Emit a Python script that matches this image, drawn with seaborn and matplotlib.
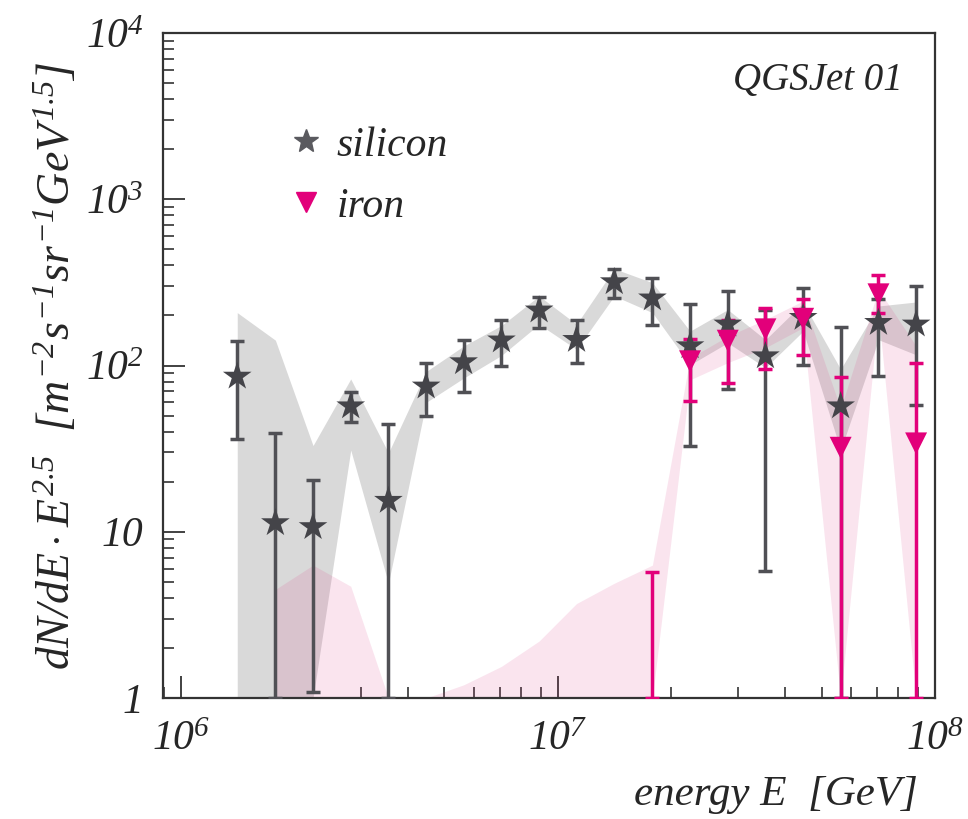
import numpy as np
import pandas as pd
import seaborn as sns
import matplotlib.pyplot as plt
from matplotlib.lines import Line2D
from matplotlib.ticker import LogLocator, NullFormatter

sns.set_style("white")
plt.rcParams["font.family"] = ["Liberation Serif", "DejaVu Serif"]
plt.rcParams["font.style"] = "italic"
plt.rcParams["mathtext.fontset"] = "custom"
plt.rcParams["mathtext.rm"] = "Liberation Serif:italic"
plt.rcParams["mathtext.it"] = "Liberation Serif:italic"
plt.rcParams["mathtext.bf"] = "Liberation Serif:italic:bold"

# bin centres [GeV]
energy = np.array([1.41e6, 1.78e6, 2.24e6, 2.82e6, 3.55e6, 4.47e6, 5.62e6, 7.08e6, 8.91e6, 1.12e7,
                   1.41e7, 1.78e7, 2.24e7, 2.82e7, 3.55e7, 4.47e7, 5.62e7, 7.08e7, 8.91e7])

# silicon: flux, stat. error bounds, systematic band
si_flux = np.array([86, 11.3, 10.7, 57, 15.4, 75, 105, 142, 215, 143, 318, 254, 131, 177, 114, 194, 57, 181, 177])
si_err_lo = np.array([36, 1.0, 1.08, 46, 1.0, 49.5, 69, 99, 169, 103, 254, 176, 32.6, 72, 5.8, 101, 1.0, 86, 58])
si_err_hi = np.array([141, 39, 20.4, 69, 44.7, 103, 143, 187, 259, 187, 382, 336, 236, 281, 215, 294, 171, 250, 300])
si_band_lo = np.array([1, 1, 1, 31, 4.9, 60, 84, 115, 177, 125, 262, 208, 101, 137, 97, 161, 31, 143, 116])
si_band_hi = np.array([208, 142, 33, 83, 29.8, 92, 131, 174, 262, 177, 382, 315, 161, 217, 143, 238, 95, 228, 241])

# iron
nan = np.nan
fe_flux = np.array([nan] * 12 + [106, 141, 165, 191, 32, 268, 34])
fe_err_lo = np.array([nan] * 11 + [1.0, 61, 79, 95, 115, 1.0, 208, 1.0])
fe_err_hi = np.array([nan] * 11 + [5.7, 145, 189, 222, 252, 85, 349, 103])
fe_band_lo = np.array([nan, 1, 1, 1, 1, 1, 1, 1, 1, 1, 1, 1, 82, 104, 128, 169, 1, 208, 1])
fe_band_hi = np.array([nan, 4.5, 6.3, 4.7, 1.0, 1.0, 1.2, 1.55, 2.2, 3.7, 4.9, 6.3, 111, 150, 189, 245, 55, 287, 131])

xtick_vals = [1e6, 1e7, 1e8]
xtick_labels = ["$10^{6}$", "$10^{7}$", "$10^{8}$"]
ytick_vals = [1, 10, 100, 1000, 10000]
ytick_labels = ["1", "10", "$10^{2}$", "$10^{3}$", "$10^{4}$"]

si_color = "#444449"
fe_color = "#e2007a"

fig = plt.figure(figsize=(9.68, 8.19), dpi=100)
ax = fig.add_axes([163 / 968, 1 - 698 / 819, 772 / 968, 665 / 819])
ax.set_xscale("log")
ax.set_yscale("log")

# systematic bands
ax.fill_between(energy, si_band_lo, si_band_hi, color="#d9d9d9", lw=0, zorder=1)
ax.fill_between(energy, fe_band_lo, fe_band_hi, color=(0.85, 0.2, 0.5), alpha=0.13, lw=0, zorder=2)

# error bars
ax.errorbar(energy, si_flux, yerr=[si_flux - si_err_lo, si_err_hi - si_flux], fmt="none",
            ecolor="#505055", elinewidth=2.5, capsize=5, capthick=2.5, zorder=3)
fe_mid = np.where(np.isnan(fe_flux), fe_err_lo, fe_flux)
ax.errorbar(energy, fe_mid, yerr=[fe_mid - fe_err_lo, fe_err_hi - fe_mid], fmt="none",
            ecolor=fe_color, elinewidth=2.5, capsize=5, capthick=2.5, zorder=4)

df = pd.concat([
    pd.DataFrame({"energy": energy, "flux": si_flux, "element": "silicon"}),
    pd.DataFrame({"energy": energy, "flux": fe_flux, "element": "iron"}),
]).dropna()

sns.scatterplot(data=df, x="energy", y="flux", hue="element", style="element", size="element",
                markers={"silicon": "*", "iron": "v"},
                palette={"silicon": si_color, "iron": fe_color},
                sizes={"silicon": 470, "iron": 250},
                edgecolor="none", legend=False, zorder=5, ax=ax)

ax.set_xlim(8.96e5, 1e8)
ax.set_ylim(1, 1e4)

ax.set_xticks(xtick_vals)
ax.set_xticklabels(xtick_labels)
ax.set_yticks(ytick_vals)
ax.set_yticklabels(ytick_labels)
ax.xaxis.set_minor_locator(LogLocator(base=10, subs=np.arange(2, 10)))
ax.yaxis.set_minor_locator(LogLocator(base=10, subs=np.arange(2, 10)))
ax.xaxis.set_minor_formatter(NullFormatter())
ax.yaxis.set_minor_formatter(NullFormatter())
ax.tick_params(which="major", direction="in", length=16, width=1.3, color="#333333",
               labelsize=30, bottom=True, left=True, top=False, right=False)
ax.tick_params(which="minor", direction="in", length=8, width=1.2, color="#333333",
               bottom=True, left=True, top=False, right=False)
ax.tick_params(axis="y", which="major", pad=14)
ax.tick_params(axis="x", which="major", pad=16)
for sp in ax.spines.values():
    sp.set_color("#333333")
    sp.set_linewidth(1.6)

ax.set_xlabel("energy E  [GeV]", fontsize=31, ha="right", va="center")
ax.xaxis.set_label_coords(0.978, -0.146)
ax.set_ylabel(r"$dN/dE\cdot E^{2.5}$  $[m^{-2}s^{-1}sr^{-1}GeV^{1.5}]$", fontsize=33, va="center")
ax.yaxis.set_label_coords(-0.137, 0.5)

ax.text(0.9585, 0.929, "QGSJet 01", transform=ax.transAxes, fontsize=28, ha="right", va="center")

handles = [
    Line2D([], [], ls="none", marker="*", color="#5a5a5f", markersize=18),
    Line2D([], [], ls="none", marker="v", color=fe_color, markersize=15),
]
ax.legend(handles, ["silicon", "iron"], loc="center left", bbox_to_anchor=(0.155, 0.785),
          frameon=False, fontsize=30, handlelength=1.1, handletextpad=0.2,
          labelspacing=0.55, borderpad=0, borderaxespad=0)

fig.savefig("out.png", dpi=100)
